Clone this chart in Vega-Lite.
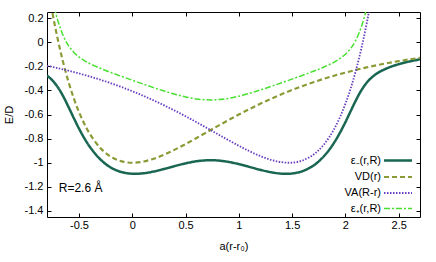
{
  "$schema": "https://vega.github.io/schema/vega-lite/v6.json",
  "width": 373,
  "height": 205,
  "autosize": {"type": "none"},
  "padding": {"left": 47, "top": 12, "right": 16, "bottom": 45},
  "config": {
    "font": "Liberation Sans",
    "view": {"stroke": "#000000", "strokeWidth": 1},
    "axis": {"domain": false, "grid": false, "tickColor": "#000000", "labelColor": "#000000", "titleColor": "#000000", "labelFontSize": 11, "titleFontSize": 11, "titleFontWeight": "normal", "tickSize": -4, "tickWidth": 1}
  },
  "datasets": {
    "curves": [
      {"s": "ε₋(r,R)", "x": -0.8, "y": -0.2763}, {"s": "ε₋(r,R)", "x": -0.75, "y": -0.3163}, {"s": "ε₋(r,R)", "x": -0.7, "y": -0.3718}, {"s": "ε₋(r,R)", "x": -0.65, "y": -0.4458}, {"s": "ε₋(r,R)", "x": -0.6, "y": -0.5341}, {"s": "ε₋(r,R)", "x": -0.55, "y": -0.6271}, {"s": "ε₋(r,R)", "x": -0.5, "y": -0.7161}, {"s": "ε₋(r,R)", "x": -0.45, "y": -0.7962}, {"s": "ε₋(r,R)", "x": -0.4, "y": -0.8657}, {"s": "ε₋(r,R)", "x": -0.3, "y": -0.9722}, {"s": "ε₋(r,R)", "x": -0.2, "y": -1.0404}, {"s": "ε₋(r,R)", "x": -0.1, "y": -1.0776}, {"s": "ε₋(r,R)", "x": 0, "y": -1.0913}, {"s": "ε₋(r,R)", "x": 0.1, "y": -1.0879}, {"s": "ε₋(r,R)", "x": 0.2, "y": -1.073}, {"s": "ε₋(r,R)", "x": 0.3, "y": -1.0514}, {"s": "ε₋(r,R)", "x": 0.4, "y": -1.0275}, {"s": "ε₋(r,R)", "x": 0.5, "y": -1.0052}, {"s": "ε₋(r,R)", "x": 0.6, "y": -0.9882}, {"s": "ε₋(r,R)", "x": 0.7, "y": -0.9797}, {"s": "ε₋(r,R)", "x": 0.8, "y": -0.9813}, {"s": "ε₋(r,R)", "x": 0.9, "y": -0.9926}, {"s": "ε₋(r,R)", "x": 1.0, "y": -1.0114}, {"s": "ε₋(r,R)", "x": 1.1, "y": -1.0347}, {"s": "ε₋(r,R)", "x": 1.2, "y": -1.0583}, {"s": "ε₋(r,R)", "x": 1.3, "y": -1.0784}, {"s": "ε₋(r,R)", "x": 1.4, "y": -1.0904}, {"s": "ε₋(r,R)", "x": 1.5, "y": -1.0893}, {"s": "ε₋(r,R)", "x": 1.6, "y": -1.0692}, {"s": "ε₋(r,R)", "x": 1.7, "y": -1.0235}, {"s": "ε₋(r,R)", "x": 1.75, "y": -0.9887}, {"s": "ε₋(r,R)", "x": 1.8, "y": -0.9446}, {"s": "ε₋(r,R)", "x": 1.85, "y": -0.8904}, {"s": "ε₋(r,R)", "x": 1.9, "y": -0.8253}, {"s": "ε₋(r,R)", "x": 1.95, "y": -0.7493}, {"s": "ε₋(r,R)", "x": 2.0, "y": -0.6635}, {"s": "ε₋(r,R)", "x": 2.05, "y": -0.5713}, {"s": "ε₋(r,R)", "x": 2.1, "y": -0.4799}, {"s": "ε₋(r,R)", "x": 2.15, "y": -0.3992}, {"s": "ε₋(r,R)", "x": 2.2, "y": -0.3363}, {"s": "ε₋(r,R)", "x": 2.25, "y": -0.2907}, {"s": "ε₋(r,R)", "x": 2.3, "y": -0.2576}, {"s": "ε₋(r,R)", "x": 2.4, "y": -0.2131}, {"s": "ε₋(r,R)", "x": 2.5, "y": -0.1832}, {"s": "ε₋(r,R)", "x": 2.6, "y": -0.1606}, {"s": "ε₋(r,R)", "x": 2.7, "y": -0.1424},

      {"s": "VD(r)", "x": -0.8, "y": 0.502}, {"s": "VD(r)", "x": -0.75, "y": 0.2477}, {"s": "VD(r)", "x": -0.7, "y": 0.0277}, {"s": "VD(r)", "x": -0.65, "y": -0.1618}, {"s": "VD(r)", "x": -0.6, "y": -0.3241}, {"s": "VD(r)", "x": -0.55, "y": -0.4623}, {"s": "VD(r)", "x": -0.5, "y": -0.5792}, {"s": "VD(r)", "x": -0.45, "y": -0.677}, {"s": "VD(r)", "x": -0.4, "y": -0.7581}, {"s": "VD(r)", "x": -0.3, "y": -0.8776}, {"s": "VD(r)", "x": -0.2, "y": -0.951}, {"s": "VD(r)", "x": -0.1, "y": -0.9889}, {"s": "VD(r)", "x": 0, "y": -1.0}, {"s": "VD(r)", "x": 0.1, "y": -0.9909}, {"s": "VD(r)", "x": 0.2, "y": -0.9671}, {"s": "VD(r)", "x": 0.3, "y": -0.9328}, {"s": "VD(r)", "x": 0.4, "y": -0.8913}, {"s": "VD(r)", "x": 0.5, "y": -0.8452}, {"s": "VD(r)", "x": 0.6, "y": -0.7964}, {"s": "VD(r)", "x": 0.7, "y": -0.7466}, {"s": "VD(r)", "x": 0.8, "y": -0.6968}, {"s": "VD(r)", "x": 0.9, "y": -0.6478}, {"s": "VD(r)", "x": 1.0, "y": -0.6004}, {"s": "VD(r)", "x": 1.1, "y": -0.5549}, {"s": "VD(r)", "x": 1.2, "y": -0.5117}, {"s": "VD(r)", "x": 1.3, "y": -0.4708}, {"s": "VD(r)", "x": 1.4, "y": -0.4324}, {"s": "VD(r)", "x": 1.5, "y": -0.3965}, {"s": "VD(r)", "x": 1.6, "y": -0.363}, {"s": "VD(r)", "x": 1.7, "y": -0.332}, {"s": "VD(r)", "x": 1.8, "y": -0.3033}, {"s": "VD(r)", "x": 1.9, "y": -0.2768}, {"s": "VD(r)", "x": 2.0, "y": -0.2524}, {"s": "VD(r)", "x": 2.1, "y": -0.2299}, {"s": "VD(r)", "x": 2.2, "y": -0.2093}, {"s": "VD(r)", "x": 2.3, "y": -0.1905}, {"s": "VD(r)", "x": 2.4, "y": -0.1732}, {"s": "VD(r)", "x": 2.5, "y": -0.1574}, {"s": "VD(r)", "x": 2.6, "y": -0.143}, {"s": "VD(r)", "x": 2.7, "y": -0.1299},

      {"s": "VA(R-r)", "x": -0.8, "y": -0.196}, {"s": "VA(R-r)", "x": -0.7, "y": -0.2153}, {"s": "VA(R-r)", "x": -0.6, "y": -0.2365}, {"s": "VA(R-r)", "x": -0.5, "y": -0.2595}, {"s": "VA(R-r)", "x": -0.4, "y": -0.2845}, {"s": "VA(R-r)", "x": -0.3, "y": -0.3117}, {"s": "VA(R-r)", "x": -0.2, "y": -0.3411}, {"s": "VA(R-r)", "x": -0.1, "y": -0.3728}, {"s": "VA(R-r)", "x": 0, "y": -0.407}, {"s": "VA(R-r)", "x": 0.1, "y": -0.4436}, {"s": "VA(R-r)", "x": 0.2, "y": -0.4828}, {"s": "VA(R-r)", "x": 0.3, "y": -0.5244}, {"s": "VA(R-r)", "x": 0.4, "y": -0.5684}, {"s": "VA(R-r)", "x": 0.5, "y": -0.6145}, {"s": "VA(R-r)", "x": 0.6, "y": -0.6624}, {"s": "VA(R-r)", "x": 0.7, "y": -0.7117}, {"s": "VA(R-r)", "x": 0.8, "y": -0.7616}, {"s": "VA(R-r)", "x": 0.9, "y": -0.8112}, {"s": "VA(R-r)", "x": 1.0, "y": -0.8594}, {"s": "VA(R-r)", "x": 1.1, "y": -0.9044}, {"s": "VA(R-r)", "x": 1.2, "y": -0.944}, {"s": "VA(R-r)", "x": 1.3, "y": -0.9756}, {"s": "VA(R-r)", "x": 1.4, "y": -0.9954}, {"s": "VA(R-r)", "x": 1.5, "y": -0.9991}, {"s": "VA(R-r)", "x": 1.6, "y": -0.9807}, {"s": "VA(R-r)", "x": 1.7, "y": -0.9331}, {"s": "VA(R-r)", "x": 1.75, "y": -0.8956}, {"s": "VA(R-r)", "x": 1.8, "y": -0.8471}, {"s": "VA(R-r)", "x": 1.85, "y": -0.7863}, {"s": "VA(R-r)", "x": 1.9, "y": -0.7114}, {"s": "VA(R-r)", "x": 1.95, "y": -0.6205}, {"s": "VA(R-r)", "x": 2.0, "y": -0.5115}, {"s": "VA(R-r)", "x": 2.05, "y": -0.3822}, {"s": "VA(R-r)", "x": 2.1, "y": -0.2298}, {"s": "VA(R-r)", "x": 2.15, "y": -0.0515}, {"s": "VA(R-r)", "x": 2.2, "y": 0.1558}, {"s": "VA(R-r)", "x": 2.25, "y": 0.3959}, {"s": "VA(R-r)", "x": 2.3, "y": 0.6727},

      {"s": "ε₊(r,R)", "x": -0.8, "y": 0.5823}, {"s": "ε₊(r,R)", "x": -0.75, "y": 0.3585}, {"s": "ε₊(r,R)", "x": -0.7, "y": 0.1842}, {"s": "ε₊(r,R)", "x": -0.65, "y": 0.0583}, {"s": "ε₊(r,R)", "x": -0.6, "y": -0.0265}, {"s": "ε₊(r,R)", "x": -0.55, "y": -0.083}, {"s": "ε₊(r,R)", "x": -0.5, "y": -0.1226}, {"s": "ε₊(r,R)", "x": -0.45, "y": -0.1526}, {"s": "ε₊(r,R)", "x": -0.4, "y": -0.177}, {"s": "ε₊(r,R)", "x": -0.3, "y": -0.217}, {"s": "ε₊(r,R)", "x": -0.2, "y": -0.2517}, {"s": "ε₊(r,R)", "x": -0.1, "y": -0.2841}, {"s": "ε₊(r,R)", "x": 0, "y": -0.3157}, {"s": "ε₊(r,R)", "x": 0.1, "y": -0.3466}, {"s": "ε₊(r,R)", "x": 0.2, "y": -0.3769}, {"s": "ε₊(r,R)", "x": 0.3, "y": -0.4058}, {"s": "ε₊(r,R)", "x": 0.4, "y": -0.4322}, {"s": "ε₊(r,R)", "x": 0.5, "y": -0.4545}, {"s": "ε₊(r,R)", "x": 0.6, "y": -0.4706}, {"s": "ε₊(r,R)", "x": 0.7, "y": -0.4785}, {"s": "ε₊(r,R)", "x": 0.8, "y": -0.4771}, {"s": "ε₊(r,R)", "x": 0.9, "y": -0.4665}, {"s": "ε₊(r,R)", "x": 1.0, "y": -0.4484}, {"s": "ε₊(r,R)", "x": 1.1, "y": -0.4247}, {"s": "ε₊(r,R)", "x": 1.2, "y": -0.3973}, {"s": "ε₊(r,R)", "x": 1.3, "y": -0.3679}, {"s": "ε₊(r,R)", "x": 1.4, "y": -0.3374}, {"s": "ε₊(r,R)", "x": 1.5, "y": -0.3063}, {"s": "ε₊(r,R)", "x": 1.6, "y": -0.2745}, {"s": "ε₊(r,R)", "x": 1.7, "y": -0.2416}, {"s": "ε₊(r,R)", "x": 1.75, "y": -0.2243}, {"s": "ε₊(r,R)", "x": 1.8, "y": -0.2058}, {"s": "ε₊(r,R)", "x": 1.85, "y": -0.1857}, {"s": "ε₊(r,R)", "x": 1.9, "y": -0.1628}, {"s": "ε₊(r,R)", "x": 1.95, "y": -0.1354}, {"s": "ε₊(r,R)", "x": 2.0, "y": -0.1003}, {"s": "ε₊(r,R)", "x": 2.05, "y": -0.0518}, {"s": "ε₊(r,R)", "x": 2.1, "y": 0.0202}, {"s": "ε₊(r,R)", "x": 2.15, "y": 0.1282}, {"s": "ε₊(r,R)", "x": 2.2, "y": 0.2828}, {"s": "ε₊(r,R)", "x": 2.25, "y": 0.4869}
    ]
  },
  "layer": [
    {
      "mark": {"type": "rule", "color": "#a0a0a0", "strokeWidth": 1},
      "encoding": {
        "y": {"datum": 0, "type": "quantitative", "scale": {"domain": [-1.45, 0.25], "nice": false, "zero": false},
              "axis": {"orient": "right", "labels": false, "title": null, "values": [-1.4, -1.2, -1, -0.8, -0.6, -0.4, -0.2, 0, 0.2]}}
      }
    },
    {
      "mark": {"type": "rule", "color": "#a0a0a0", "strokeWidth": 1},
      "encoding": {
        "x": {"datum": 0, "type": "quantitative", "scale": {"domain": [-0.8, 2.7], "nice": false, "zero": false},
              "axis": {"orient": "top", "labels": false, "title": null, "values": [-0.5, 0, 0.5, 1, 1.5, 2, 2.5]}}
      }
    },
    {
      "data": {"name": "curves"},
      "mark": {"type": "line", "clip": true, "interpolate": "catmull-rom"},
      "encoding": {
        "x": {"field": "x", "type": "quantitative", "scale": {"domain": [-0.8, 2.7], "nice": false, "zero": false},
              "axis": {"orient": "bottom", "title": "a(r-r₀)", "values": [-0.5, 0, 0.5, 1, 1.5, 2, 2.5], "labelPadding": 6, "titlePadding": 10,
                       "labelExpr": "replace(format(datum.value, '~g'), '\u2212', '-')"}},
        "y": {"field": "y", "type": "quantitative", "scale": {"domain": [-1.45, 0.25], "nice": false, "zero": false},
              "axis": {"orient": "left", "title": "E/D", "values": [-1.4, -1.2, -1, -0.8, -0.6, -0.4, -0.2, 0, 0.2], "labelPadding": 8, "titlePadding": 10,
                       "labelExpr": "replace(format(datum.value, '~g'), '\u2212', '-')"}},
        "color": {"field": "s", "type": "nominal",
                  "scale": {"domain": ["ε₋(r,R)", "VD(r)", "VA(R-r)", "ε₊(r,R)"], "range": ["#196652", "#8a9a35", "#6840c0", "#48e030"]},
                  "legend": {"orient": "none", "legendX": 344.5, "legendY": 142, "title": null, "labelAlign": "right", "labelOffset": -23.5,
                             "symbolType": "M-2.8,0H2.8", "symbolSize": 100, "labelFontSize": 11, "rowPadding": 4.5, "padding": 0, "labelColor": "#000000"}},
        "strokeDash": {"field": "s", "type": "nominal",
                       "scale": {"domain": ["ε₋(r,R)", "VD(r)", "VA(R-r)", "ε₊(r,R)"], "range": [[1, 0], [5, 3], [1.5, 1.5], [6, 2, 2, 2]]}},
        "strokeWidth": {"field": "s", "type": "nominal",
                        "scale": {"domain": ["ε₋(r,R)", "VD(r)", "VA(R-r)", "ε₊(r,R)"], "range": [2.5, 1.5, 1.5, 1.5]}}
      }
    },
    {
      "data": {"values": [{"label": "R=2.6 Å"}]},
      "mark": {"type": "text", "align": "left", "baseline": "middle", "fontSize": 12, "font": "Liberation Sans", "color": "#000000"},
      "encoding": {
        "text": {"field": "label", "type": "nominal"},
        "x": {"datum": -0.69, "type": "quantitative", "axis": null},
        "y": {"datum": -1.206, "type": "quantitative", "axis": null}
      }
    }
  ]
}
